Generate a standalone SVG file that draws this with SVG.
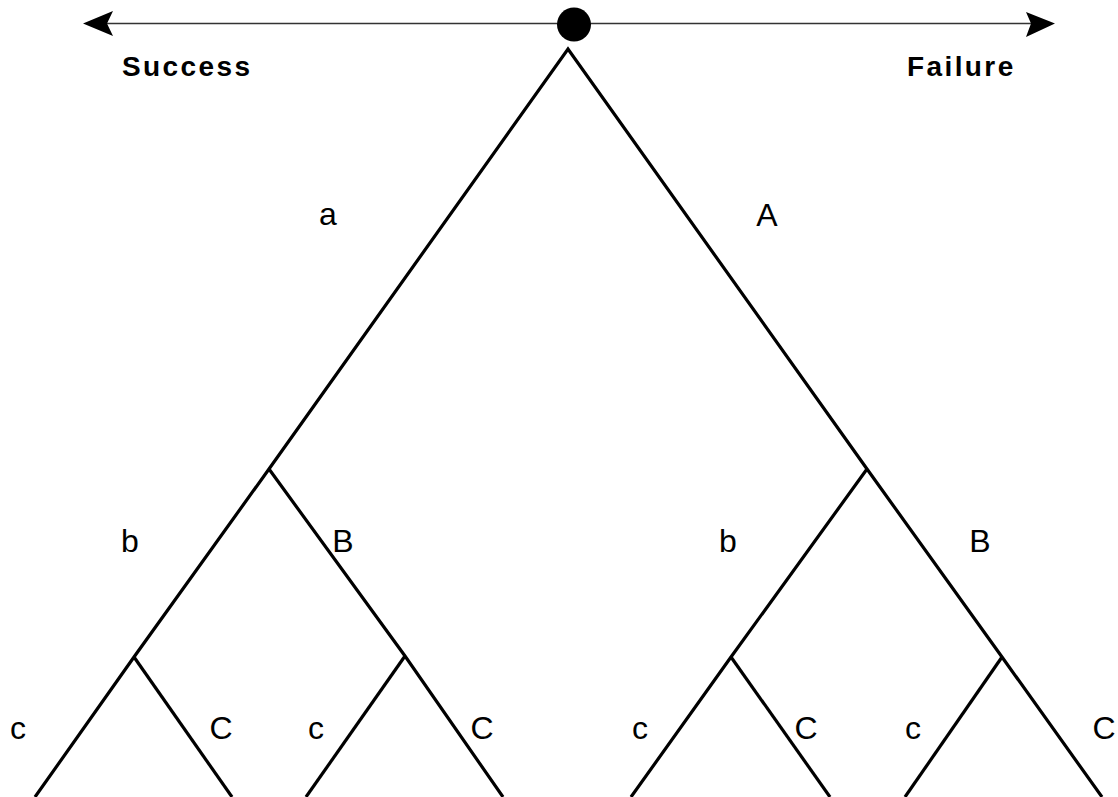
<svg xmlns="http://www.w3.org/2000/svg" width="1118" height="797" viewBox="0 0 1118 797">
<style>
.br{stroke:#000;stroke-width:3.2;fill:none;stroke-linecap:butt;stroke-linejoin:miter}
.lbl{font-family:"Liberation Sans",Arial,sans-serif;font-size:32px;fill:#000;text-anchor:middle}
.hdr{font-family:"Liberation Sans",Arial,sans-serif;font-size:28px;font-weight:bold;fill:#000;letter-spacing:2.4px}
</style>
<rect width="1118" height="797" fill="#fff"/>
<g id="axis">
<line x1="105" y1="23.5" x2="1035" y2="23.5" stroke="#333" stroke-width="1.5"/>
<polygon points="83,23.5 113,11 107,23.5 113,36" fill="#000"/>
<polygon points="1055,23.5 1026,12 1031,23.5 1026,37" fill="#000"/>
</g>
<g id="root"><circle cx="574" cy="24.5" r="17" fill="#000"/></g>
<g id="labels-top">
<text class="hdr" x="122" y="76">Success</text>
<text class="hdr" x="907" y="76">Failure</text>
</g>
<g id="connectors">
<polyline class="br" points="35,797 134,657 269,469 568,49 867,469 1002,657 1102,797"/>
<polyline class="br" points="269,469 405,656 503,797"/>
<line class="br" x1="134" y1="657" x2="232" y2="797"/>
<line class="br" x1="405" y1="656" x2="306" y2="797"/>
<polyline class="br" points="867,469 731,657 631,797"/>
<line class="br" x1="731" y1="657" x2="830" y2="797"/>
<line class="br" x1="1002" y1="657" x2="905" y2="797"/>
</g>
<g id="node-a"><text class="lbl" x="328" y="225">a</text></g>
<g id="node-A"><text class="lbl" x="767" y="226">A</text></g>
<g id="node-b1"><text class="lbl" x="130" y="552">b</text></g>
<g id="node-B1"><text class="lbl" x="343" y="552">B</text></g>
<g id="node-b2"><text class="lbl" x="728" y="552">b</text></g>
<g id="node-B2"><text class="lbl" x="980" y="552">B</text></g>
<g id="node-c1"><text class="lbl" x="18" y="739">c</text></g>
<g id="node-C1"><text class="lbl" x="221" y="739">C</text></g>
<g id="node-c2"><text class="lbl" x="316" y="739">c</text></g>
<g id="node-C2"><text class="lbl" x="482" y="739">C</text></g>
<g id="node-c3"><text class="lbl" x="640" y="739">c</text></g>
<g id="node-C3"><text class="lbl" x="806" y="739">C</text></g>
<g id="node-c4"><text class="lbl" x="913" y="739">c</text></g>
<g id="node-C4"><text class="lbl" x="1104" y="739">C</text></g>
</svg>
